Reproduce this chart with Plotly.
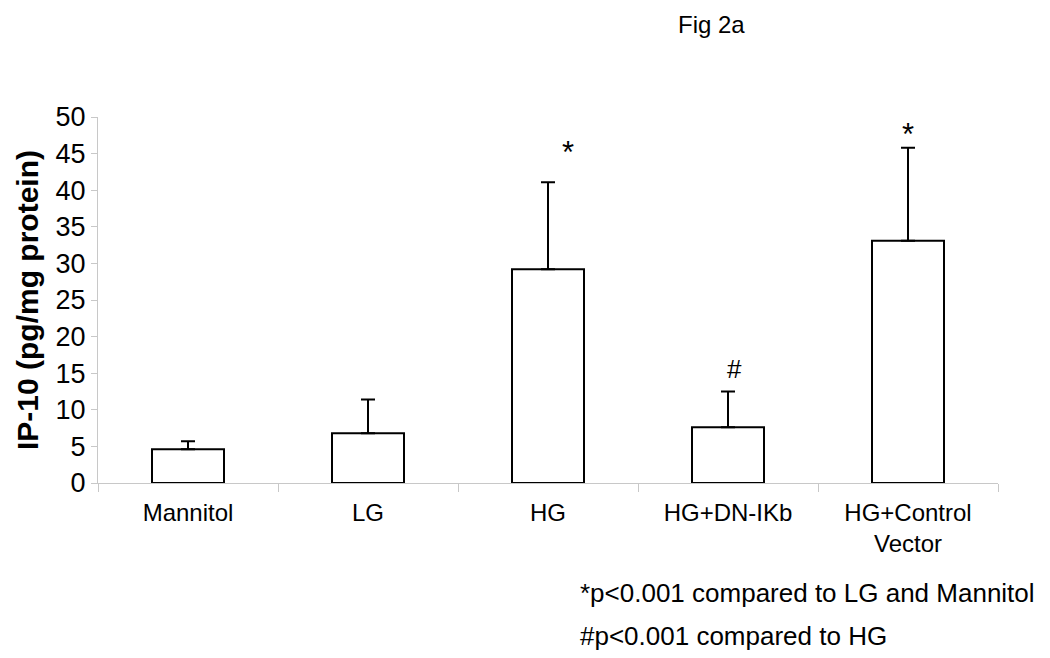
import plotly.graph_objects as go

# data
groups = ["Mannitol", "LG", "HG", "HG+DN-IKb", "HG+Control<br>Vector"]
ip10_mean = [4.6, 6.8, 29.2, 7.6, 33.1]
ip10_err = [1.1, 4.6, 11.9, 4.9, 12.7]
marks = ["", "", "*", "#", "*"]

footnotes = ["*p<0.001 compared to LG and Mannitol", "#p<0.001 compared to HG"]

font = "Liberation Sans, Arial, sans-serif"

fig = go.Figure()
fig.add_trace(go.Bar(
    x=groups,
    y=ip10_mean,
    width=0.4,
    marker=dict(color="white", line=dict(color="black", width=2)),
    error_y=dict(type="data", array=ip10_err, arrayminus=[0] * len(ip10_err),
                 symmetric=False, color="black", thickness=2, width=7),
))

# significance marks above the error bars
mark_xshift = [0, 0, 20, 6, 0]
mark_yshift = [0, 0, 30, 23, 13]
for g, m, e, s, xs, ys in zip(groups, ip10_mean, ip10_err, marks, mark_xshift, mark_yshift):
    if not s:
        continue
    fig.add_annotation(x=g, y=m + e, text=s, showarrow=False,
                       xshift=xs, yshift=ys, yanchor="middle",
                       font=dict(size=31 if s == "*" else 26, color="black", family=font))

fig.add_annotation(text="Fig 2a", xref="paper", yref="paper", x=0.721, y=1.295,
                   showarrow=False, yanchor="top",
                   font=dict(size=24, color="black", family=font))

# page body adds an 8px offset, margins are set for that
fig.update_layout(
    width=1050, height=658,
    margin=dict(l=90, r=60, t=109, b=183),
    paper_bgcolor="white", plot_bgcolor="white",
    showlegend=False,
    font=dict(family=font, color="black"),
)
fig.update_yaxes(
    range=[0, 50], dtick=5, showgrid=False, zeroline=False,
    showline=True, linecolor="#c8c8c8", linewidth=1,
    ticks="outside", ticklen=6, tickcolor="#c8c8c8",
    tickfont=dict(size=27, color="black", family=font),
    title=dict(text="<b>IP-10 (pg/mg protein)</b>", font=dict(size=30, family=font), standoff=8),
)
fig.update_xaxes(
    showgrid=False, showline=True, linecolor="#c8c8c8", linewidth=1,
    ticks="outside", ticklen=8, tickcolor="#c8c8c8", tickson="boundaries",
    tickfont=dict(size=24, color="black", family=font),
    ticklabelstandoff=8,
)

# the footnotes under the axis
for i, txt in enumerate(footnotes):
    fig.add_annotation(text=txt, xref="paper", yref="paper", x=0.5333, y=-0.3005 - i * 0.1175,
                       xanchor="left", yanchor="middle", showarrow=False,
                       font=dict(size=26, color="black", family=font))

fig.write_html("out.html")
